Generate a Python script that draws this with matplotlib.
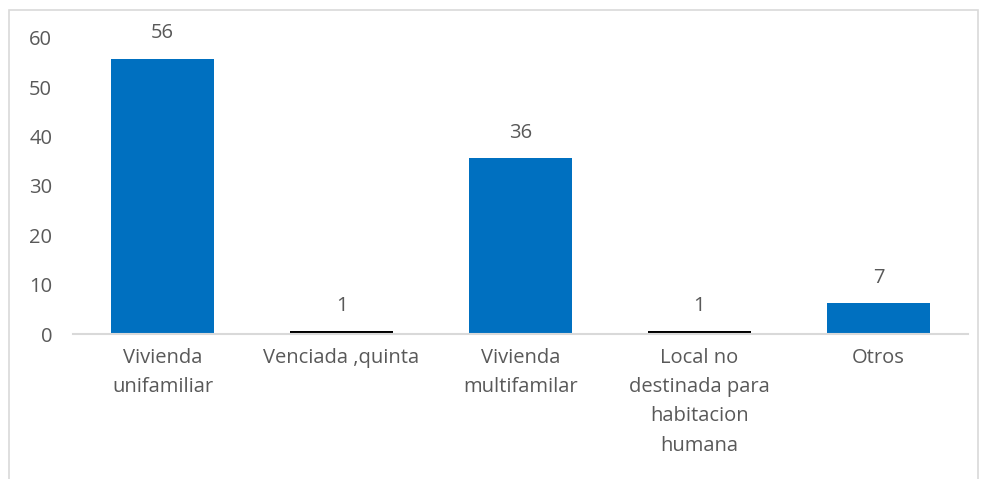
import matplotlib.pyplot as plt
from matplotlib.patches import Rectangle

categorias = ["Vivienda\nunifamiliar", "Venciada ,quinta", "Vivienda\nmultifamilar",
              "Local no\ndestinada para\nhabitacion\nhumana", "Otros"]
alturas = [55.8, 0.6, 35.7, 0.6, 6.3]
etiquetas = ["56", "1", "36", "1", "7"]
colores = ["#0070C0", "#000000", "#0070C0", "#000000", "#0070C0"]

plt.rcParams['font.family'] = ['Open Sans', 'DejaVu Sans']
gris = "#595959"

fig = plt.figure(figsize=(9.83, 4.79), dpi=100)
ax = fig.add_axes([0.0743, 0.3027, 0.9104, 0.618])

x = range(len(categorias))
ax.bar(x, alturas, width=0.575, color=colores)
for i, (h, t) in enumerate(zip(alturas, etiquetas)):
    ax.annotate(t, (i, h), xytext=(0, 11), textcoords='offset points',
                ha='center', va='bottom', fontsize=14.5, color=gris)

ax.set_xlim(-0.5, 4.5)
ax.set_ylim(0, 60)
ax.set_yticks(range(0, 61, 10))
ax.set_xticks(list(x))
ax.set_xticklabels(categorias, fontsize=14.5, color=gris, linespacing=1.62, va='top')
ax.tick_params(axis='y', length=0, pad=15, labelsize=14.5, labelcolor=gris)
ax.tick_params(axis='x', length=0, pad=10)
for s in ['top', 'right', 'left']:
    ax.spines[s].set_visible(False)
ax.spines['bottom'].set_color('#D9D9D9')
ax.spines['bottom'].set_linewidth(1.5)

fig.patches.append(Rectangle((9 / 983, -0.01), 969 / 983, 1 - 10 / 479 + 0.01,
                             transform=fig.transFigure, fill=False,
                             edgecolor='#D9D9D9', linewidth=1.2))

plt.savefig('out.png', dpi=100)
